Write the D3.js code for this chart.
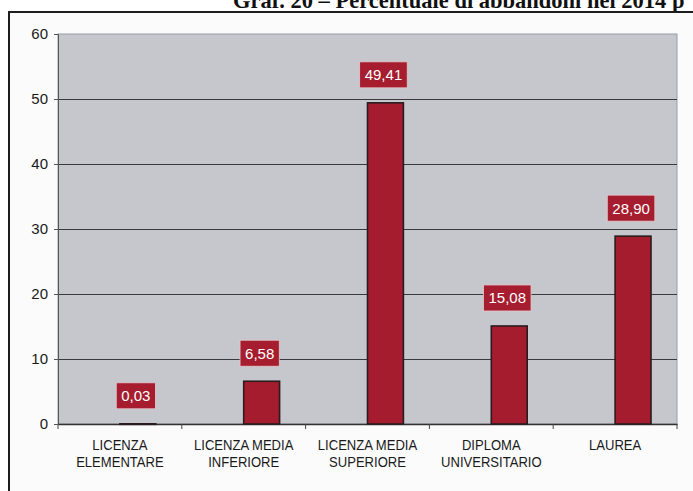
<!DOCTYPE html>
<html>
<head>
<meta charset="utf-8">
<script src="https://cdn.jsdelivr.net/npm/d3@7"></script>
<style>
  html, body { margin: 0; padding: 0; background: #fff; }
  svg { display: block; }
</style>
</head>
<body>
<svg id="chart" width="693" height="491"></svg>
<script>
// dati
var categorie = [
  ['LICENZA', 'ELEMENTARE'],
  ['LICENZA MEDIA', 'INFERIORE'],
  ['LICENZA MEDIA', 'SUPERIORE'],
  ['DIPLOMA', 'UNIVERSITARIO'],
  ['LAUREA']
];
var valori = [0.03, 6.58, 49.41, 15.08, 28.90];
var etichette = ['0,03', '6,58', '49,41', '15,08', '28,90'];
var yTicks = [0, 10, 20, 30, 40, 50, 60];
var titolo = 'Graf. 20 \u2013 Percentuale di abbandoni nel 2014 p';

var W = 693, H = 491;
var plot = { left: 58, right: 677, top: 34, bottom: 424 };

var svg = d3.select('#chart');

// titolo (tagliato in alto e a destra come nella scansione)
svg.append('text')
  .attr('x', 233)
  .attr('y', 8)
  .attr('font-family', '"Liberation Serif", "Times New Roman", serif')
  .attr('font-weight', 'bold')
  .attr('font-size', 22.5)
  .attr('fill', '#111')
  .text(titolo);

// cornice esterna
svg.append('rect')
  .attr('x', 9).attr('y', 12)
  .attr('width', W + 20).attr('height', H + 20)
  .attr('fill', '#fbfbfb')
  .attr('stroke', '#1e1e1e')
  .attr('stroke-width', 2);

var keys = categorie.map(function(d, i) { return 'c' + i; });

var x = d3.scaleBand()
  .domain(keys)
  .range([plot.left, plot.right])
  .padding(0);

var y = d3.scaleLinear()
  .domain([0, 60])
  .range([plot.bottom, plot.top]);

// sfondo area del grafico
svg.append('rect')
  .attr('x', plot.left).attr('y', plot.top)
  .attr('width', plot.right - plot.left)
  .attr('height', plot.bottom - plot.top)
  .attr('fill', '#c6c7cd')
  .attr('stroke', '#9a9ca6')
  .attr('stroke-width', 1);

// griglia
svg.append('g')
  .selectAll('line')
  .data(yTicks.filter(function(t) { return t > 0 && t < 60; }))
  .enter().append('line')
  .attr('x1', plot.left).attr('x2', plot.right)
  .attr('y1', function(d) { return Math.round(y(d)) + 0.5; })
  .attr('y2', function(d) { return Math.round(y(d)) + 0.5; })
  .attr('stroke', '#3a3a3e')
  .attr('stroke-width', 1.2);

// asse y
var yAxis = svg.append('g')
  .attr('transform', 'translate(' + plot.left + ',0)')
  .call(d3.axisLeft(y).tickValues(yTicks).tickSize(4).tickPadding(6).tickFormat(d3.format('d')));
yAxis.select('.domain').attr('stroke', '#555');
yAxis.selectAll('.tick line').attr('stroke', '#555');
yAxis.selectAll('text')
  .attr('font-family', 'Arial, "Liberation Sans", sans-serif')
  .attr('font-size', 15)
  .attr('fill', '#1a1a1a');

// asse x
var xAxis = svg.append('g')
  .attr('transform', 'translate(0,' + plot.bottom + ')')
  .call(d3.axisBottom(x).tickSize(0).tickFormat(''));
xAxis.select('.domain').attr('stroke', '#333').attr('stroke-width', 1.5);
xAxis.selectAll('.tick').remove();

// tacche tra le categorie
svg.append('g')
  .selectAll('line')
  .data(keys.concat(['end']))
  .enter().append('line')
  .attr('x1', function(d) { return d === 'end' ? plot.right : x(d); })
  .attr('x2', function(d) { return d === 'end' ? plot.right : x(d); })
  .attr('y1', plot.bottom)
  .attr('y2', plot.bottom + 5)
  .attr('stroke', '#444');

// etichette categorie
var catLabels = svg.append('g')
  .selectAll('text')
  .data(categorie)
  .enter().append('text')
  .attr('text-anchor', 'middle')
  .attr('font-family', 'Arial, "Liberation Sans", sans-serif')
  .attr('font-size', 15)
  .attr('fill', '#1a1a1a')
  .attr('transform', function(d, i) {
    return 'translate(' + (x(keys[i]) + x.bandwidth() / 2) + ',' + 449.5 + ')';
  });

catLabels.selectAll('tspan')
  .data(function(d) { return d; })
  .enter().append('tspan')
  .attr('x', 0)
  .attr('y', function(d, j) { return j * 17.5; })
  .text(function(d) { return d; })
  .each(function() {
    var len = this.getComputedTextLength();
    d3.select(this).attr('textLength', len * 0.87).attr('lengthAdjust', 'spacingAndGlyphs');
  });

// barre (seconda serie del gruppo: parte dal centro della categoria)
var barW = x.bandwidth() * 0.29;

svg.append('g')
  .selectAll('rect')
  .data(valori)
  .enter().append('rect')
  .attr('x', function(d, i) { return x(keys[i]) + x.bandwidth() / 2; })
  .attr('y', function(d) { return y(d); })
  .attr('width', barW)
  .attr('height', function(d) { return Math.max(plot.bottom - y(d), 0.5); })
  .attr('fill', '#a51c2f')
  .attr('stroke', '#2a1c1e')
  .attr('stroke-width', 1.6);

// etichette dei valori
var lab = svg.append('g')
  .selectAll('g')
  .data(valori)
  .enter().append('g')
  .attr('transform', function(d, i) {
    var cx = x(keys[i]) + x.bandwidth() / 2 + barW / 2 - 2;
    return 'translate(' + cx + ',' + (y(d) - 15) + ')';
  });

lab.append('rect')
  .attr('fill', '#a51d2e')
  .attr('stroke', '#e6c9cc')
  .attr('stroke-width', 0.8);

lab.append('text')
  .attr('text-anchor', 'middle')
  .attr('y', -7.5)
  .attr('font-family', 'Arial, "Liberation Sans", sans-serif')
  .attr('font-size', 15)
  .attr('fill', '#fff')
  .text(function(d, i) { return etichette[i]; });

lab.each(function() {
  var g = d3.select(this);
  var w = g.select('text').node().getComputedTextLength() + 10;
  g.select('rect')
    .attr('x', -w / 2).attr('y', -26)
    .attr('width', w).attr('height', 26);
});
</script>
</body>
</html>
